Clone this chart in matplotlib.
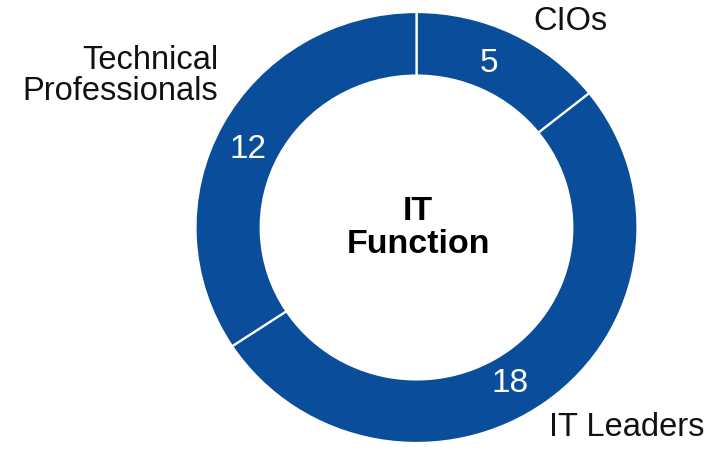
import matplotlib
matplotlib.use("Agg")
import matplotlib.pyplot as plt

plt.rcParams['font.family'] = ['Liberation Sans', 'DejaVu Sans']

# data
groups = ["CIOs", "IT Leaders", "Technical\nProfessionals"]
counts = [5, 18, 12]
centre_title = "IT\nFunction"

BLUE = "#0A4D9A"
W, H = 712, 451

fig = plt.figure(figsize=(W / 100, H / 100), dpi=100)

# ring is slightly wider than tall in the reference
cx, cy = 416.5, 227.5
rx, ry = 221, 215.5
ax = fig.add_axes([(cx - rx) / W, 1 - (cy + ry) / H, 2 * rx / W, 2 * ry / H])

ax.pie(counts, startangle=90, counterclock=False, radius=1,
       colors=[BLUE] * len(counts),
       wedgeprops=dict(width=0.295, edgecolor='white', linewidth=1.6))

# pie() resets aspect and limits, so set them afterwards
ax.set_aspect('auto')
ax.set_xlim(-1, 1)
ax.set_ylim(-1, 1)
ax.axis('off')


def px(x, y):
    return x / W, 1 - y / H


# outer labels
fig.text(*px(570, 22), groups[0], ha='center', va='center', fontsize=23.5, color='#111111')
fig.text(*px(627, 428), groups[1], ha='center', va='center', fontsize=23.5, color='#111111')
fig.text(*px(218, 76), groups[2], ha='right', va='center', fontsize=23.5,
         color='#111111', multialignment='right', linespacing=1.0)

# values inside the ring
val_pos = [(489, 63), (510, 384), (248, 150)]
for (x, y), v in zip(val_pos, counts):
    fig.text(*px(x, y), str(v), ha='center', va='center', fontsize=24,
             color='white', zorder=5)

# centre caption
fig.text(*px(418, 228), centre_title, ha='center', va='center', fontsize=24.5,
         fontweight='bold', color='black', linespacing=1.1)

fig.savefig("out.png", dpi=100, facecolor='white')
